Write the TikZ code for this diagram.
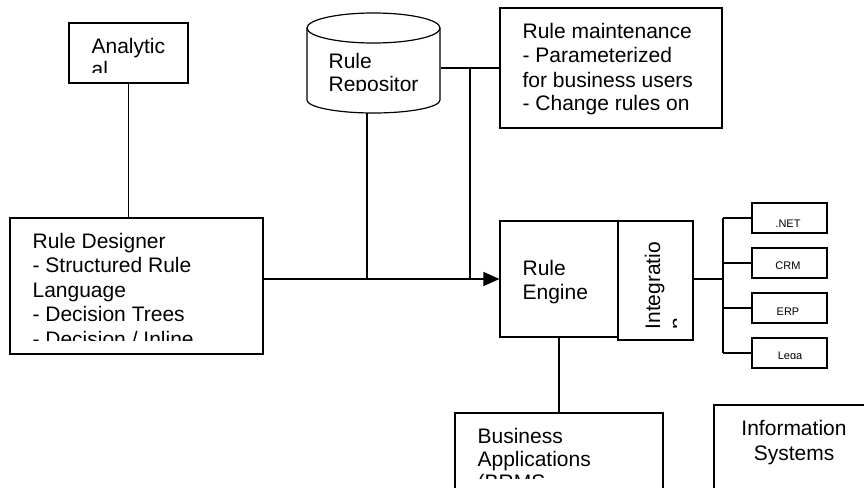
\documentclass[tikz,border=0pt]{standalone}
\usepackage{fontspec}
\setmainfont{Liberation Sans}
\usetikzlibrary{arrows.meta}
\begin{document}
\begin{tikzpicture}[x=1pt,y=-1pt,line width=1.2pt,
  box/.style={draw,rectangle,inner sep=0pt},
  ghost/.style={rectangle,inner sep=0pt},
  txt/.style={anchor=base west,inner sep=0pt,font=\fontsize{21}{24}\selectfont},
  ctxt/.style={anchor=base,inner sep=0pt,font=\fontsize{21}{25}\selectfont},
  small/.style={anchor=base,inner sep=0pt,font=\fontsize{11}{13}\selectfont},
  tip/.style={-{Triangle[length=16pt,width=14pt]}}]
\useasboundingbox (0,0) rectangle (864,487);
\clip (0,0) rectangle (864,487);

% boxes
\node[box,minimum width=119pt,minimum height=60pt] (analytical) at (128.5,53) {};
\node[box,minimum width=253pt,minimum height=136pt] (designer) at (136.5,286) {};
\node[box,minimum width=222pt,minimum height=120pt] (maint) at (611,68) {};
\node[box,minimum width=118pt,minimum height=116pt] (engine) at (559,279) {};
\node[box,minimum width=75pt,minimum height=119pt] (integ) at (655.5,280.5) {};
\node[box,minimum width=75pt,minimum height=30pt] (net) at (789.5,218) {};
\node[box,minimum width=75pt,minimum height=30pt] (crm) at (789.5,263) {};
\node[box,minimum width=75pt,minimum height=30pt] (erp) at (789.5,308) {};
\node[box,minimum width=75pt,minimum height=30pt] (lega) at (789.5,353) {};
\node[box,minimum width=208pt,minimum height=107pt] (business) at (559,466.5) {};
\node[box,minimum width=166pt,minimum height=115pt] (info) at (797,462.5) {};

% repository cylinder
\node[ghost,minimum width=133pt,minimum height=100pt] (repo) at (373.5,63) {};
\draw (307,28) -- (307,100) arc[start angle=180,end angle=0,x radius=66.5,y radius=13] -- (440,28);
\draw (373.5,28) ellipse[x radius=66.5,y radius=15];

% connectors
\draw (analytical.south) -- (analytical.south |- designer.north);
\draw (maint.west) -- (maint.west -| repo.east);
\coordinate (j1) at (470,68);
\draw (j1) -- (j1 |- engine.west);
\coordinate (rb) at (367,113);
\draw (rb) -- (rb |- engine.west);
\draw[tip] (designer.east |- engine.west) -- (engine.west);
\draw (engine.south) -- (engine.south |- business.north);
\coordinate (bus) at (723,279);
\draw (integ.east |- engine.east) -- (bus);
\draw (net.west -| bus) -- (lega.west -| bus);
\foreach \n in {net,crm,erp,lega}{\draw (\n.west -| bus) -- (\n.west);}

% texts
\begin{scope}
\clip (69,23) rectangle (188,72);
\node[txt] (analyticalText) at (91,53) {\parbox[t]{150pt}{\raggedright Analytic\\al}};
\end{scope}
\begin{scope}
\clip (307,13) rectangle (440,90);
\node[txt] (repoText) at (328,68) {\parbox[t]{150pt}{\raggedright Rule\\Repositor\\y}};
\end{scope}
\begin{scope}
\clip (500,8) rectangle (722,118);
\node[txt] (maintText) at (522,39) {\parbox[t]{200pt}{\raggedright Rule maintenance\\- Parameterized\\for business users\\- Change rules on}};
\end{scope}
\begin{scope}
\clip (10,218) rectangle (263,340);
\node[txt,font=\fontsize{21}{24.5}\selectfont] (designerText) at (32,248) {\parbox[t]{230pt}{\raggedright Rule Designer\\- Structured Rule\\Language\\- Decision Trees\\- Decision / Inline}};
\end{scope}
\node[txt] (engineText) at (522,275) {\parbox[t]{90pt}{\raggedright Rule\\Engine}};
\begin{scope}
\clip (618,221) rectangle (676,340);
\node[txt,rotate=90] (integText) at (660,330) {\parbox[t]{200pt}{\raggedright Integratio\\n}};
\end{scope}
\node[small] (netText) at (788,227.5) {.NET};
\begin{scope}
\clip (752,248) rectangle (827,268);
\node[small] (crmText) at (788,269.5) {CRM};
\end{scope}
\node[small] (erpText) at (788,315) {ERP};
\begin{scope}
\clip (752,338) rectangle (827,358);
\node[small] (legaText) at (790,359.5) {\parbox[t]{60pt}{\centering Lega\\cy}};
\end{scope}
\begin{scope}
\clip (455,413) rectangle (663,478);
\node[txt,font=\fontsize{21}{23}\selectfont] (businessText) at (477,443) {\parbox[t]{180pt}{\raggedright Business\\Applications\\(BRMS}};
\end{scope}
\node[ctxt] (infoText) at (794,435) {\parbox[t]{200pt}{\centering Information\\Systems}};
\end{tikzpicture}
\end{document}
